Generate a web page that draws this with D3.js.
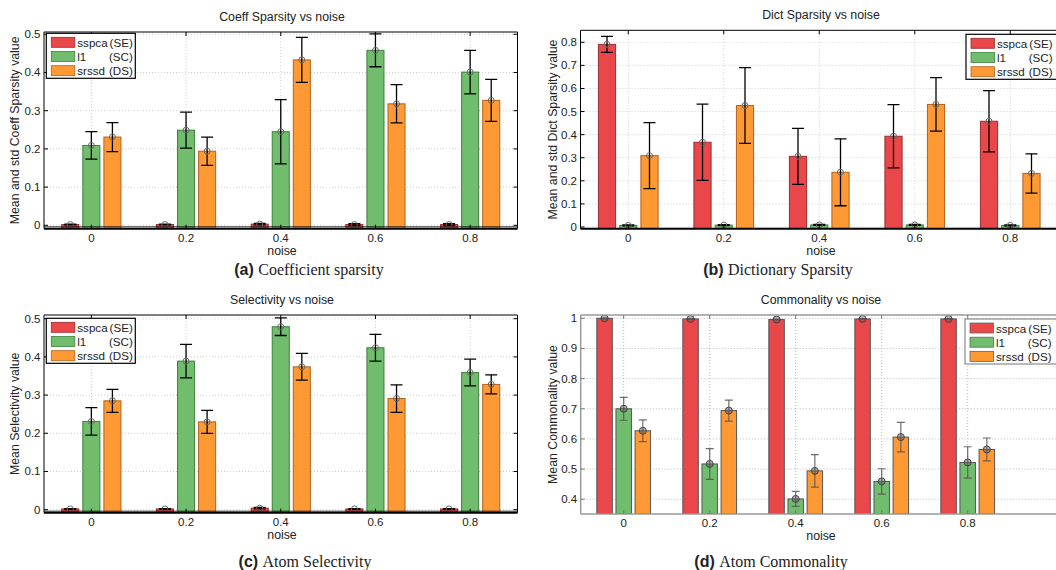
<!DOCTYPE html>
<html>
<head>
<meta charset="utf-8">
<script src="https://cdn.jsdelivr.net/npm/d3@7"></script>
<style>
  html, body { margin: 0; padding: 0; background: #fff; }
  svg { display: block; }
  text { font-family: "Liberation Sans", Arial, Helvetica, sans-serif; fill: #222; }
  .cap-b { font-weight: bold; font-size: 16px; }
  .cap-r { font-family: "Liberation Serif", "Times New Roman", serif; font-size: 16px; }
</style>
</head>
<body>
<svg id="fig" width="1056" height="570"></svg>
<script>
// Noise levels on the x axis
const noiseLevels = [0, 0.2, 0.4, 0.6, 0.8];

// Method names and their tags in the legend
const methodNames = ["sspca", "l1", "srssd"];
const methodTags = ["(SE)", "(SC)", "(DS)"];

// (a) Coefficient sparsity: means and standard deviations
const coeffSspca = [0.002, 0.002, 0.003, 0.002, 0.002];
const coeffSspcaStd = [0.001, 0.001, 0.002, 0.002, 0.002];
const coeffL1 = [0.209, 0.249, 0.245, 0.458, 0.401];
const coeffL1Std = [0.036, 0.047, 0.084, 0.043, 0.057];
const coeffSrssd = [0.231, 0.194, 0.433, 0.318, 0.327];
const coeffSrssdStd = [0.038, 0.037, 0.059, 0.050, 0.055];

// (b) Dictionary sparsity
const dictSspca = [0.791, 0.367, 0.306, 0.393, 0.458];
const dictSspcaStd = [0.035, 0.165, 0.121, 0.137, 0.133];
const dictL1 = [0.007, 0.008, 0.009, 0.009, 0.007];
const dictL1Std = [0.002, 0.002, 0.002, 0.002, 0.002];
const dictSrssd = [0.309, 0.526, 0.237, 0.531, 0.232];
const dictSrssdStd = [0.143, 0.164, 0.145, 0.116, 0.085];

// (c) Atom selectivity
const selSspca = [0.002, 0.002, 0.004, 0.002, 0.002];
const selSspcaStd = [0.001, 0.001, 0.002, 0.001, 0.001];
const selL1 = [0.231, 0.389, 0.479, 0.424, 0.359];
const selL1Std = [0.036, 0.044, 0.023, 0.035, 0.035];
const selSrssd = [0.285, 0.230, 0.374, 0.291, 0.328];
const selSrssdStd = [0.030, 0.030, 0.035, 0.036, 0.025];

// (d) Atom commonality
const commSspca = [1.000, 0.998, 0.996, 0.998, 0.998];
const commSspcaStd = [0.001, 0.001, 0.001, 0.001, 0.001];
const commL1 = [0.700, 0.517, 0.401, 0.459, 0.522];
const commL1Std = [0.038, 0.051, 0.025, 0.042, 0.052];
const commSrssd = [0.627, 0.694, 0.494, 0.606, 0.565];
const commSrssdStd = [0.036, 0.035, 0.054, 0.049, 0.038];

// Y tick values per panel
const ticksSparse = [0, 0.1, 0.2, 0.3, 0.4, 0.5];
const ticksDict = [0, 0.1, 0.2, 0.3, 0.4, 0.5, 0.6, 0.7, 0.8];
const ticksComm = [0.4, 0.5, 0.6, 0.7, 0.8, 0.9, 1];

const fills = ["#EA474A", "#70BD6D", "#FF9933"];
const edges = ["#9A2E30", "#3F7F3B", "#B0621E"];

const svg = d3.select("#fig");
const fmt = d => String(+d.toFixed(1));
const barOffset = 0.0445;   // group offset in noise units
const barWidth = 0.036;     // bar width in noise units

function drawPanel(cfg) {
  const g = svg.append("g");
  const x = d3.scaleLinear().domain(cfg.xDomain).range([cfg.left, cfg.right]);
  const y = d3.scaleLinear().domain(cfg.yDomain).range([cfg.bottom, cfg.top]);
  const modern = cfg.modern;
  const frameColor = modern ? "#9a9a9a" : "#000";
  const rightVisible = cfg.right < 1056;

  const clipId = "clip-" + cfg.id;
  g.append("clipPath").attr("id", clipId).append("rect")
    .attr("x", cfg.left).attr("y", cfg.top)
    .attr("width", cfg.right - cfg.left).attr("height", cfg.bottom - cfg.top);

  // dotted grid
  const grid = g.append("g").attr("stroke", modern ? "#b8b8b8" : "#cfcfcf")
    .attr("stroke-width", 1).attr("stroke-dasharray", "1,2");
  grid.selectAll("line.h").data(cfg.yTicks).join("line").attr("class", "h")
    .attr("x1", cfg.left).attr("x2", cfg.right)
    .attr("y1", d => y(d)).attr("y2", d => y(d));
  grid.selectAll("line.v").data(noiseLevels).join("line").attr("class", "v")
    .attr("x1", d => x(d)).attr("x2", d => x(d))
    .attr("y1", cfg.top).attr("y2", cfg.bottom);

  const plot = g.append("g").attr("clip-path", `url(#${clipId})`);
  const bw = x(barWidth) - x(0);

  cfg.series.forEach((s, i) => {
    const off = (i - 1) * barOffset;
    const rows = noiseLevels.map((n, k) => ({ n, v: s.mean[k], sd: s.std[k] }));
    plot.selectAll(`rect.s${i}`).data(rows).join("rect").attr("class", `s${i}`)
      .attr("x", d => x(d.n + off) - bw / 2)
      .attr("width", bw)
      .attr("y", d => y(d.v))
      .attr("height", d => y(cfg.yDomain[0]) - y(d.v))
      .attr("fill", fills[i])
      .attr("stroke", modern ? "#555" : edges[i])
      .attr("stroke-width", 1);
  });

  // error bars and markers on top of bars
  cfg.series.forEach((s, i) => {
    const off = (i - 1) * barOffset;
    const rows = noiseLevels.map((n, k) => ({ n, v: s.mean[k], sd: s.std[k] }));
    const eb = plot.append("g")
      .attr("stroke", modern ? "#555" : "#000")
      .attr("stroke-opacity", modern ? 0.85 : 1)
      .attr("stroke-width", modern ? 1.2 : 1.3);
    const cap = modern ? 4 : 6;
    eb.selectAll("line.v").data(rows).join("line").attr("class", "v")
      .attr("x1", d => x(d.n + off)).attr("x2", d => x(d.n + off))
      .attr("y1", d => y(d.v - d.sd)).attr("y2", d => y(d.v + d.sd));
    eb.selectAll("line.t").data(rows).join("line").attr("class", "t")
      .attr("x1", d => x(d.n + off) - cap).attr("x2", d => x(d.n + off) + cap)
      .attr("y1", d => y(d.v + d.sd)).attr("y2", d => y(d.v + d.sd));
    eb.selectAll("line.b").data(rows).join("line").attr("class", "b")
      .attr("x1", d => x(d.n + off) - cap).attr("x2", d => x(d.n + off) + cap)
      .attr("y1", d => y(d.v - d.sd)).attr("y2", d => y(d.v - d.sd));
    plot.append("g").selectAll("circle").data(rows).join("circle")
      .attr("cx", d => x(d.n + off)).attr("cy", d => y(d.v))
      .attr("r", modern ? 3.5 : 3)
      .attr("fill", modern ? "rgba(90,90,90,0.45)" : "none")
      .attr("stroke", modern ? "#444" : "#6a6a6a")
      .attr("stroke-width", 1);
  });

  // frame
  const fr = g.append("g").attr("stroke", frameColor).attr("fill", "none");
  fr.append("line").attr("x1", cfg.left).attr("x2", cfg.right).attr("y1", cfg.top).attr("y2", cfg.top)
    .attr("stroke-width", modern ? 1.5 : 1);
  fr.append("line").attr("x1", cfg.left).attr("x2", cfg.left).attr("y1", cfg.top).attr("y2", cfg.bottom)
    .attr("stroke-width", modern ? 1.5 : 1);
  fr.append("line").attr("x1", cfg.right).attr("x2", cfg.right).attr("y1", cfg.top).attr("y2", cfg.bottom);
  fr.append("line").attr("x1", cfg.left).attr("x2", cfg.right).attr("y1", cfg.bottom).attr("y2", cfg.bottom)
    .attr("stroke-width", modern ? 1.5 : 2);
  if (!modern) {
    fr.append("line").attr("x1", cfg.left).attr("x2", cfg.right)
      .attr("y1", y(0) + 1.5).attr("y2", y(0) + 1.5).attr("stroke-width", 0.8);
  }

  // inward ticks
  const tk = g.append("g").attr("stroke", modern ? "#777" : "#000").attr("stroke-width", 1);
  tk.selectAll("line.xb").data(noiseLevels).join("line").attr("class", "xb")
    .attr("x1", d => x(d)).attr("x2", d => x(d)).attr("y1", cfg.bottom).attr("y2", cfg.bottom - 4);
  tk.selectAll("line.xt").data(noiseLevels).join("line").attr("class", "xt")
    .attr("x1", d => x(d)).attr("x2", d => x(d)).attr("y1", cfg.top).attr("y2", cfg.top + 4);
  tk.selectAll("line.yl").data(cfg.yTicks).join("line").attr("class", "yl")
    .attr("x1", cfg.left).attr("x2", cfg.left + 4).attr("y1", d => y(d)).attr("y2", d => y(d));
  if (rightVisible) {
    tk.selectAll("line.yr").data(cfg.yTicks).join("line").attr("class", "yr")
      .attr("x1", cfg.right).attr("x2", cfg.right - 4).attr("y1", d => y(d)).attr("y2", d => y(d));
  }

  // tick labels
  g.append("g").selectAll("text").data(noiseLevels).join("text")
    .attr("x", d => x(d)).attr("y", cfg.bottom + 9)
    .attr("text-anchor", "middle").attr("dominant-baseline", "central")
    .attr("font-size", 11.5).text(fmt);
  g.append("g").selectAll("text").data(cfg.yTicks).join("text")
    .attr("x", cfg.left - 3.5).attr("y", d => y(d))
    .attr("text-anchor", "end").attr("dominant-baseline", "central")
    .attr("font-size", 11.5).text(fmt);

  // titles and labels
  g.append("text").attr("x", cfg.titleX).attr("y", cfg.top - 15)
    .attr("text-anchor", "middle").attr("dominant-baseline", "central")
    .attr("font-size", 12.3).text(cfg.title);
  g.append("text").attr("x", cfg.titleX).attr("y", cfg.bottom + 22)
    .attr("text-anchor", "middle").attr("dominant-baseline", "central")
    .attr("font-size", 12.3).text("noise");
  g.append("text")
    .attr("transform", `translate(${cfg.ylabelX},${(cfg.top + cfg.bottom) / 2}) rotate(-90)`)
    .attr("text-anchor", "middle").attr("dominant-baseline", "central")
    .attr("font-size", 12.3).text(cfg.ylabel);

  // caption
  const cap = g.append("text").attr("x", cfg.capX).attr("y", cfg.capY).attr("text-anchor", "middle");
  cap.append("tspan").attr("class", "cap-b").text(cfg.capTag + " ");
  cap.append("tspan").attr("class", "cap-r").text(cfg.caption);

  // legend
  const L = cfg.legend;
  const lg = g.append("g");
  lg.append("rect").attr("x", L.x).attr("y", L.y).attr("width", L.w).attr("height", 45)
    .attr("fill", "#fff").attr("stroke", modern ? "#8a8a8a" : "#000").attr("stroke-width", 1.2);
  methodNames.forEach((m, i) => {
    const cy = L.y + 9 + i * 14.2;
    lg.append("rect").attr("x", L.x + 5).attr("y", cy - 5).attr("width", 23.5).attr("height", 10)
      .attr("fill", fills[i]).attr("stroke", modern ? "#666" : edges[i]).attr("stroke-width", 0.8);
    lg.append("text").attr("x", L.x + 31).attr("y", cy).attr("dominant-baseline", "central")
      .attr("font-size", 11.6).text(m);
    lg.append("text").attr("x", L.x + 86.5).attr("y", cy).attr("dominant-baseline", "central")
      .attr("text-anchor", "end").attr("font-size", 11.6).text(methodTags[i]);
  });
}

drawPanel({
  id: "a", left: 44, right: 517.5, top: 32, bottom: 228.7,
  xDomain: [-0.1, 0.9], yDomain: [-0.0089, 0.506], yTicks: ticksSparse, modern: false,
  series: [
    { mean: coeffSspca, std: coeffSspcaStd },
    { mean: coeffL1, std: coeffL1Std },
    { mean: coeffSrssd, std: coeffSrssdStd }
  ],
  title: "Coeff Sparsity vs noise", titleX: 282,
  ylabel: "Mean and std Coeff Sparsity value", ylabelX: 15,
  capTag: "(a)", caption: "Coefficient sparsity", capX: 309, capY: 275,
  legend: { x: 46.3, y: 33.3, w: 89 }
});

drawPanel({
  id: "b", left: 580.5, right: 1058, top: 30.3, bottom: 228.7,
  xDomain: [-0.1, 0.9], yDomain: [-0.0074, 0.852], yTicks: ticksDict, modern: false,
  series: [
    { mean: dictSspca, std: dictSspcaStd },
    { mean: dictL1, std: dictL1Std },
    { mean: dictSrssd, std: dictSrssdStd }
  ],
  title: "Dict Sparsity vs noise", titleX: 821,
  ylabel: "Mean and std Dict Sparsity value", ylabelX: 553,
  capTag: "(b)", caption: "Dictionary Sparsity", capX: 778, capY: 275,
  legend: { x: 966, y: 34.3, w: 93 }
});

drawPanel({
  id: "c", left: 44, right: 517.5, top: 315, bottom: 512.7,
  xDomain: [-0.1, 0.9], yDomain: [-0.0079, 0.5097], yTicks: ticksSparse, modern: false,
  series: [
    { mean: selSspca, std: selSspcaStd },
    { mean: selL1, std: selL1Std },
    { mean: selSrssd, std: selSrssdStd }
  ],
  title: "Selectivity vs noise", titleX: 282,
  ylabel: "Mean Selectivity value", ylabelX: 15,
  capTag: "(c)", caption: "Atom Selectivity", capX: 305, capY: 567,
  legend: { x: 46.3, y: 318.3, w: 89 }
});

drawPanel({
  id: "d", left: 580.7, right: 1058, top: 315, bottom: 514,
  xDomain: [-0.1, 1.01], yDomain: [0.351, 1.011], yTicks: ticksComm, modern: true,
  series: [
    { mean: commSspca, std: commSspcaStd },
    { mean: commL1, std: commL1Std },
    { mean: commSrssd, std: commSrssdStd }
  ],
  title: "Commonality vs noise", titleX: 821,
  ylabel: "Mean Commonality value", ylabelX: 553,
  capTag: "(d)", caption: "Atom Commonality", capX: 771, capY: 567,
  legend: { x: 965, y: 319, w: 93 }
});
</script>
</body>
</html>
